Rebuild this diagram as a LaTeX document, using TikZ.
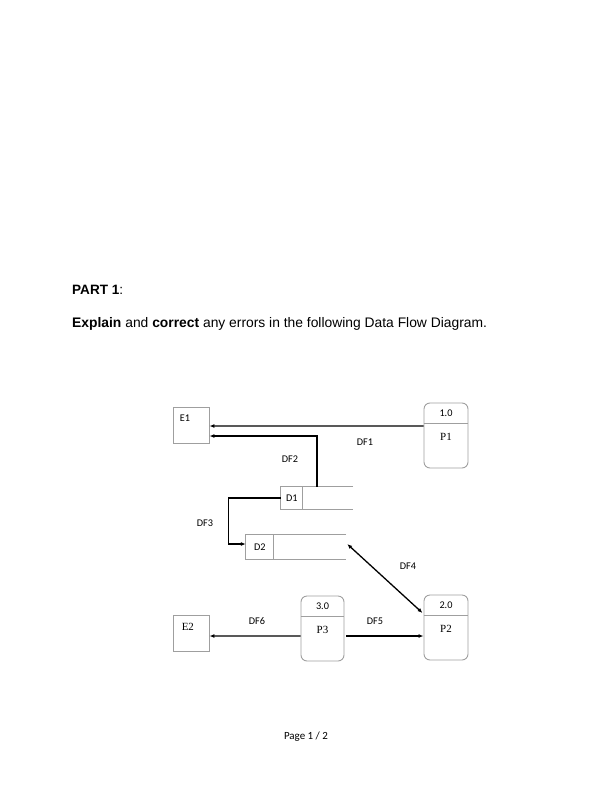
\documentclass[tikz,border=0pt]{standalone}
\usepackage{fontspec}
\setmainfont{Liberation Sans}
\newfontfamily\calfont{Carlito}
\newfontfamily\timesfont{Liberation Serif}
\usetikzlibrary{arrows.meta,positioning}

\begin{document}
\begin{tikzpicture}[x=1bp,y=-1bp,
entity/.style={rectangle,draw=gray!75,line width=0.9pt,minimum width=36bp,minimum height=36bp,inner sep=0pt},
proc/.style={rectangle,rounded corners=6bp,draw=gray!75,line width=0.9pt,minimum width=44bp,minimum height=65bp,inner sep=0pt},
store/.style={rectangle,minimum width=#1,inner sep=0pt},
flow/.style={-{Latex[length=5bp,width=4bp]},line width=1.3pt},
lbl/.style={font=\calfont\fontsize{10.3}{12}\selectfont,inner sep=0pt},
nm/.style={font=\timesfont\fontsize{11}{13}\selectfont,inner sep=0pt}]
 \useasboundingbox (0,0) rectangle (612,792);
 % heading
 \node[anchor=base west,inner sep=0pt,font=\fontsize{13.6}{16}\selectfont] (part) at (72,294) {\textbf{PART 1}:};
 \node[anchor=base west,inner sep=0pt,font=\fontsize{13.9}{16}\selectfont] (task) at (72,327.3)
 {\textbf{Explain} and \textbf{correct} any errors in the following Data Flow Diagram.};
 % external entities
 \node[entity] (E1) at (191,425) {};
 \node[lbl,anchor=north west] at ([xshift=7bp,yshift=-8bp]E1.north west) {E1};
 \node[entity] (E2) at (191,633) {};
 \node[nm,anchor=north west] at ([xshift=9bp,yshift=-8bp]E2.north west) {E2};
 % processes
 \node[proc] (P1) at (446,435.5) {};
 \node[proc,minimum width=43bp] (P3) at (322.5,628.5) {};
 \node[proc] (P2) at (446,627.5) {};
 \foreach \P/\N in {1/1.0,3/3.0,2/2.0}
    {\draw[gray!75,line width=0.9pt] ([yshift=-21bp]P\P.north west) -- ([yshift=-21bp]P\P.north east);
    \node[lbl] at ([yshift=-11bp]P\P.north) {\N};
    \node[nm] at ([yshift=-34bp]P\P.north) {P\P};}
 % data stores
 \node[store=72bp,minimum height=22bp] (D1) at (317,498) {};
 \node[store=100bp,minimum height=24bp] (D2) at (296,547) {};
 \draw[gray!75,line width=0.9pt] (D1.north east) -- (D1.north west) -- (D1.south west) -- (D1.south east)
 ([xshift=22bp]D1.north west) -- ([xshift=22bp]D1.south west);
 \draw[gray!75,line width=0.9pt] (D2.north east) -- (D2.north west) -- (D2.south west) -- (D2.south east)
 ([xshift=28bp]D2.north west) -- ([xshift=28bp]D2.south west);
 \node[lbl] at ([xshift=11bp]D1.west) {D1};
 \node[lbl] at ([xshift=14bp]D2.west) {D2};
 % flows
 \draw[flow] ([yshift=9.5bp]P1.west) -- ([yshift=-1bp]E1.east);
 \draw[flow] (D1.north) |- ([yshift=-11bp]E1.east);
 \draw[flow] (D1.west) -- ++(-52,0) |- ([yshift=3bp]D2.west);
 \draw[{Latex[length=5bp,width=4bp]}-{Latex[length=5bp,width=4bp]},line width=1.3pt]
 ([xshift=1bp,yshift=3bp]D2.east) -- ([xshift=-1bp,yshift=14.5bp]P2.west);
 \draw[flow,shorten <=2bp] ([yshift=-7.5bp]P3.east) -- ([yshift=-8.5bp]P2.west);
 \draw[flow] ([yshift=-7.5bp]P3.west) -- ([yshift=-3bp]E2.east);
 % flow labels
 \node[lbl] (df1) at (365,442) {DF1};
 \node[lbl] (df2) at (290,459) {DF2};
 \node[lbl] (df3) at (205,523) {DF3};
 \node[lbl] (df4) at (408,566) {DF4};
 \node[lbl] (df5) at (375,621) {DF5};
 \node[lbl] (df6) at (257,621) {DF6};
 % footer
 \node[font=\calfont\fontsize{11}{13}\selectfont,inner sep=0pt] (page) at (306,737) {Page 1 / 2};
\end{tikzpicture}
\end{document}
